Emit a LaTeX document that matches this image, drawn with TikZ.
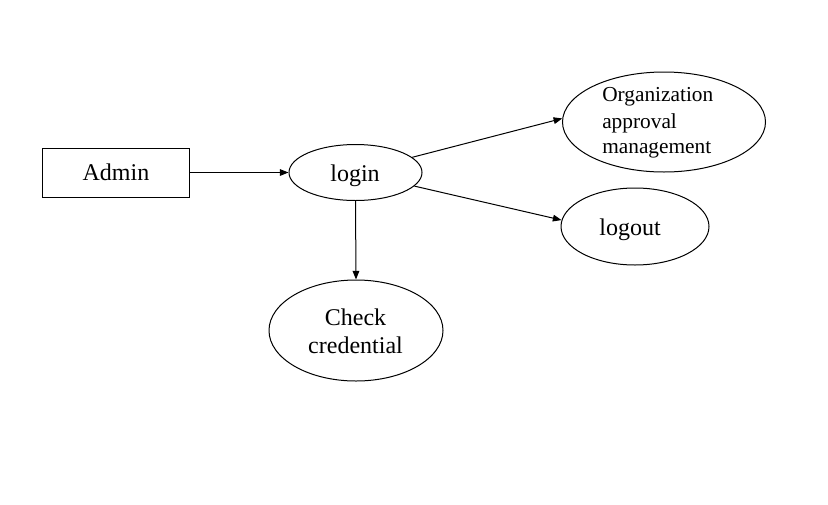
\documentclass[tikz,border=0pt]{standalone}
\usepackage{fontspec}
\setmainfont{Liberation Serif}
\usetikzlibrary{shapes.geometric,arrows.meta}
\begin{document}
\begin{tikzpicture}[x=0.75pt,y=-0.75pt,
  shp/.style={draw,line width=0.75pt,inner sep=0pt},
  ell/.style={shp,ellipse},
  txt/.style={inner sep=0pt,font=\fontsize{18}{21}\selectfont},
  stxt/.style={inner sep=0pt,font=\fontsize{16}{19}\selectfont},
  arr/.style={line width=0.75pt,-{Triangle[length=6.5pt,width=5pt]}}]
\useasboundingbox (0,0) rectangle (828,504);
\node[shp,rectangle,minimum width=110.25pt,minimum height=36.75pt] (admin) at (115.8,172.5) {};
\node[ell,minimum width=99.75pt,minimum height=42pt] (login) at (355.5,172.5) {};
\node[ell,minimum width=152.25pt,minimum height=75pt] (org) at (664,122) {};
\node[ell,minimum width=111pt,minimum height=57.75pt] (logout) at (635,226.5) {};
\node[ell,minimum width=130.5pt,minimum height=75.75pt] (check) at (356,330.5) {};
\node[txt,anchor=base] (tadmin) at (116,180.7) {Admin};
\node[txt,anchor=base] (tlogin) at (355,181.7) {login};
\node[txt,anchor=base] (tlogout) at (630,235.7) {logout};
\node[txt,anchor=base] (tcheck1) at (355.5,325) {Check};
\node[txt,anchor=base] (tcheck2) at (355.5,353) {credential};
\node[stxt,anchor=base west] (torg1) at (602,101.7) {Organization};
\node[stxt,anchor=base west] (torg2) at (602,128) {approval};
\node[stxt,anchor=base west] (torg3) at (602,153.5) {management};
\draw[arr] (admin.east) -- (login.west);
\draw[arr] (login.15) -- (org.178);
\draw[arr] (login.-13) -- (logout.175);
\draw[arr] (login.south) -- (check.north);
\end{tikzpicture}
\end{document}
